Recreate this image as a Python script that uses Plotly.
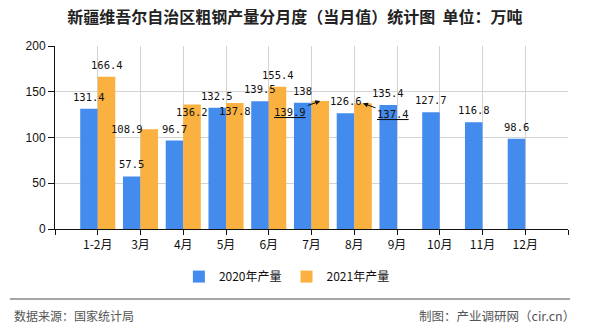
import plotly.graph_objects as go

categories = ["1-2月", "3月", "4月", "5月", "6月", "7月", "8月", "9月", "10月", "11月", "12月"]
values_2020 = [131.4, 57.5, 96.7, 132.5, 139.5, 138, 126.6, 135.4, 127.7, 116.8, 98.6]
values_2021 = [166.4, 108.9, 136.2, 137.8, 155.4, 139.9, 137.4, None, None, None, None]
series_names = ["2020年产量", "2021年产量"]
y_ticks = [0, 50, 100, 150, 200]

BLUE = "#448BEE"
ORANGE = "#FBB13F"
CJK = "Noto Sans CJK SC"
MONO = "DejaVu Sans Mono"

x_pos = list(range(len(categories)))

fig = go.Figure()
fig.add_trace(go.Bar(x=x_pos, y=values_2020, name=series_names[0], marker_color=BLUE,
                     marker_line_width=0))
fig.add_trace(go.Bar(x=x_pos, y=values_2021, name=series_names[1], marker_color=ORANGE,
                     marker_line_width=0))

half = 8.75
label_tweaks = {
    (1, 1): dict(xshift=half - 22, yshift=0, yanchor="middle"),
    (1, 2): dict(yshift=-8, yanchor="middle"),
    (1, 3): dict(yshift=-8, yanchor="middle"),
    (1, 5): dict(arrow=True, ax=-30, ay=11),
    (1, 6): dict(arrow=True, ax=30, ay=11),
}

annotations = []
for s, vals in enumerate([values_2020, values_2021]):
    base_shift = -half if s == 0 else half
    for i, v in enumerate(vals):
        if v is None:
            continue
        t = label_tweaks.get((s, i), {})
        txt = f"{v:g}"
        if t.get("arrow"):
            annotations.append(dict(
                x=i, y=v, xref="x", yref="y", text="<u>" + txt + "</u>",
                xshift=base_shift, showarrow=True, ax=t["ax"], ay=t["ay"],
                arrowhead=2, arrowsize=1, arrowwidth=1, arrowcolor="#111",
                font=dict(family=MONO, size=10.5, color="#111")))
        else:
            annotations.append(dict(
                x=i, y=v, xref="x", yref="y", text=txt, showarrow=False,
                xshift=t.get("xshift", base_shift), yshift=t.get("yshift", 4),
                yanchor=t.get("yanchor", "bottom"),
                font=dict(family=MONO, size=10.5, color="#111")))

annotations.append(dict(xref="paper", yref="paper", x=-0.083, y=-0.475, xanchor="left",
                        yanchor="middle", text="数据来源：国家统计局", showarrow=False,
                        font=dict(family=CJK, size=12, color="#555")))
annotations.append(dict(xref="paper", yref="paper", x=0.7057, y=-0.475, xanchor="left",
                        yanchor="middle", text="制图：产业调研网（cir.cn）", showarrow=False,
                        font=dict(family=CJK, size=12.5, color="#555")))

fig.update_layout(
    width=590, height=330,
    margin=dict(l=55, r=22, t=46, b=101),
    paper_bgcolor="white", plot_bgcolor="white",
    barmode="group", bargap=0.18, bargroupgap=0,
    title=dict(text="新疆维吾尔自治区粗钢产量分月度（当月值）统计图  单位：万吨",
               x=0.5, xanchor="center", y=1 - 17 / 330, yanchor="middle",
               font=dict(family=CJK, size=16, color="#222", weight="bold")),
    legend=dict(orientation="h", x=0.452, xanchor="center", y=-0.26, yanchor="middle",
                font=dict(family=CJK, size=12, color="#111"), itemwidth=30),
    annotations=annotations,
    shapes=[dict(type="line", xref="paper", yref="paper", x0=-0.088, x1=1.004,
                 y0=-0.382, y1=-0.382, line=dict(color="#888", width=1.5))],
)

fig.update_xaxes(
    range=[-1, len(categories)], tickmode="array",
    tickvals=list(range(-1, len(categories) + 1)),
    ticktext=[""] + categories + [""],
    showgrid=True, gridcolor="#D3D3D3", gridwidth=1,
    showline=True, linecolor="#111", linewidth=1,
    ticks="outside", ticklen=5, tickcolor="#111",
    tickfont=dict(family=CJK, size=12, color="#111"),
    zeroline=False, fixedrange=True,
)
fig.update_yaxes(
    range=[0, 200], tickmode="array", tickvals=y_ticks,
    showgrid=True, gridcolor="#D3D3D3", gridwidth=1,
    showline=True, linecolor="#111", linewidth=1,
    ticks="outside", ticklen=6, tickcolor="#111",
    tickfont=dict(family="Liberation Sans", size=12, color="#111"),
    zeroline=False, fixedrange=True,
)

fig.write_html("out.html", config={"displayModeBar": False})
